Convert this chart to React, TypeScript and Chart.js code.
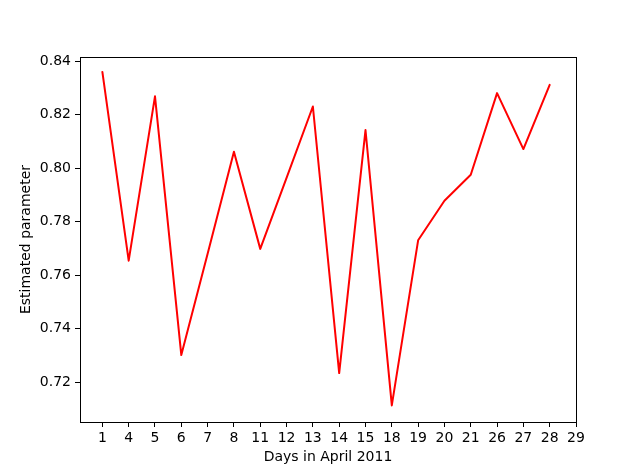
import React, { useEffect, useRef } from "react";
import { Chart, registerables } from "chart.js";

Chart.register(...registerables);

const dayLabels = ["1", "4", "5", "6", "7", "8", "11", "12", "13", "14", "15", "18", "19", "20", "21", "26", "27", "28", "29"];
const estimates = [0.8359, 0.7654, 0.8268, 0.7301, 0.768, 0.8061, 0.7698, 0.7963, 0.823, 0.7234, 0.8142, 0.7113, 0.773, 0.7878, 0.7975, 0.828, 0.8071, 0.8311];
const yTicks = [0.72, 0.74, 0.76, 0.78, 0.8, 0.82, 0.84];

const FONT = "'DejaVu Sans', sans-serif";

const boxPlugin = {
  id: "boxPlugin",
  afterDraw(chart: any) {
    const { ctx, chartArea } = chart;
    ctx.save();
    ctx.strokeStyle = "#000";
    ctx.lineWidth = 1;
    ctx.strokeRect(
      Math.round(chartArea.left) + 0.5,
      Math.round(chartArea.top) + 0.5,
      Math.round(chartArea.right - chartArea.left),
      Math.round(chartArea.bottom - chartArea.top)
    );
    ctx.restore();
  },
};

export default function App() {
  const ref = useRef<HTMLCanvasElement>(null);
  useEffect(() => {
    if (!ref.current) return;
    const chart = new Chart(ref.current, {
      type: "line",
      data: {
        datasets: [
          {
            data: estimates.map((v, i) => ({ x: i, y: v })),
            borderColor: "#ff0000",
            borderWidth: 2,
            borderJoinStyle: "round",
            borderCapStyle: "round",
            pointRadius: 0,
            tension: 0,
            fill: false,
          },
        ],
      },
      options: {
        animation: false,
        responsive: false,
        layout: { padding: { top: 57, right: 64, left: 0, bottom: 0 } },
        plugins: { legend: { display: false }, tooltip: { enabled: false } },
        scales: {
          x: {
            type: "linear",
            min: -0.85,
            max: 18,
            afterBuildTicks: (s: any) => {
              s.ticks = dayLabels.map((_, i) => ({ value: i }));
            },
            afterFit: (s: any) => {
              s.height = 52;
            },
            ticks: {
              callback: (v: any) => dayLabels[v] ?? "",
              color: "#000",
              font: { family: FONT, size: 14 },
              padding: 3,
              maxRotation: 0,
              autoSkip: false,
            },
            grid: { display: true, drawOnChartArea: false, drawTicks: true, tickLength: 5, color: "#000" },
            border: { display: true, color: "#000" },
            title: {
              display: true,
              text: "Days in April 2011",
              color: "#000",
              font: { family: FONT, size: 14 },
              padding: { top: 0, bottom: 8 },
            },
          },
          y: {
            type: "linear",
            min: 0.7051,
            max: 0.8415,
            afterBuildTicks: (s: any) => {
              s.ticks = yTicks.map((v) => ({ value: v }));
            },
            afterFit: (s: any) => {
              s.width = 80;
            },
            ticks: {
              callback: (v: any) => Number(v).toFixed(2),
              color: "#000",
              font: { family: FONT, size: 14 },
              padding: 4,
            },
            grid: { display: true, drawOnChartArea: false, drawTicks: true, tickLength: 5, color: "#000" },
            border: { display: true, color: "#000" },
            title: {
              display: true,
              text: "Estimated parameter",
              color: "#000",
              font: { family: FONT, size: 14 },
              padding: { top: 18, bottom: 0 },
            },
          },
        },
      },
      plugins: [boxPlugin],
    });
    return () => chart.destroy();
  }, []);
  return (
    <div style={{ position: "absolute", left: 0, top: 0, width: 640, height: 474, background: "#fff" }}>
      <canvas ref={ref} width={640} height={474} />
    </div>
  );
}
